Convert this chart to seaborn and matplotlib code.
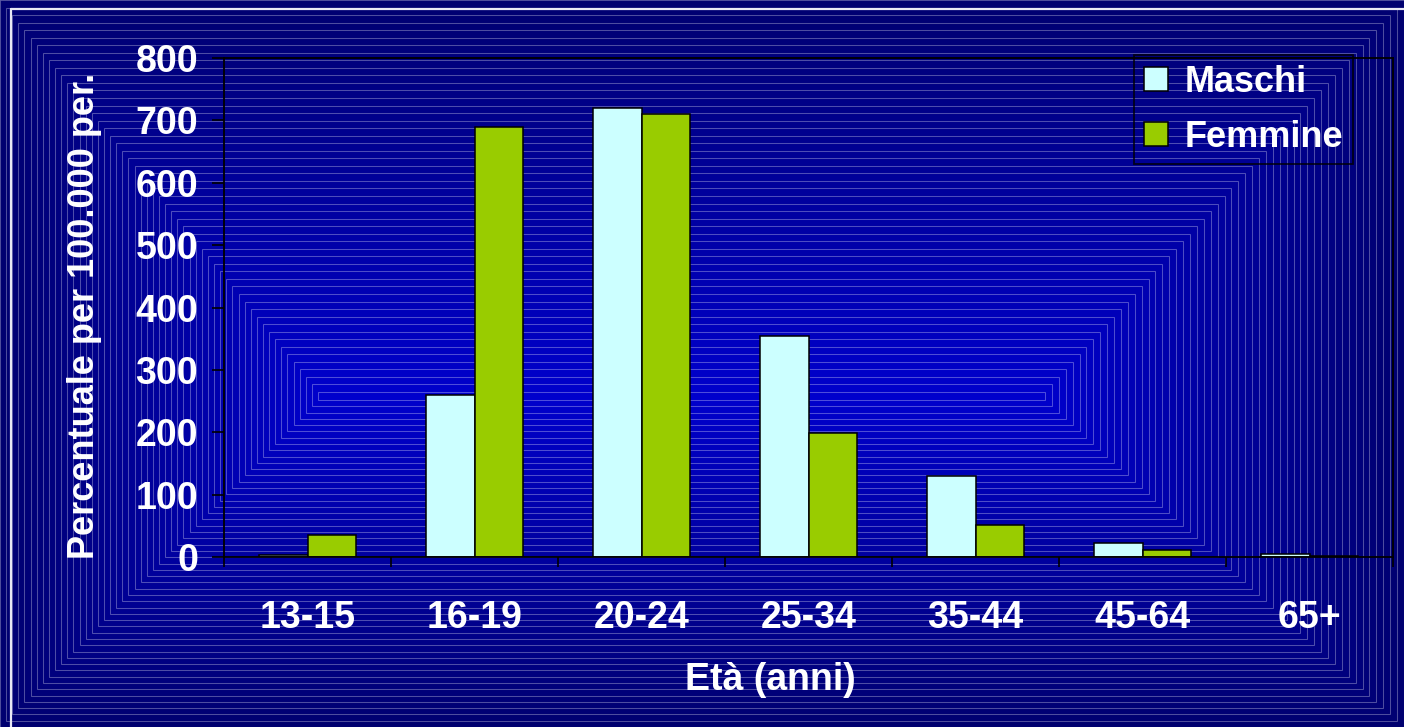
import numpy as np
import pandas as pd
import matplotlib
matplotlib.use("Agg")
import matplotlib.pyplot as plt
from matplotlib.patches import Rectangle
import seaborn as sns

# Rates per 100,000 by age group
categories = ["13-15", "16-19", "20-24", "25-34", "35-44", "45-64", "65+"]
maschi = [4, 260, 720, 354, 130, 22, 5]
femmine = [35, 689, 710, 199, 51, 11, 2]
series_names = ["Maschi", "Femmine"]
y_ticks = [0, 100, 200, 300, 400, 500, 600, 700, 800]

df = pd.DataFrame({
    "Età": categories * 2,
    "Valore": maschi + femmine,
    "Sesso": [series_names[0]] * len(categories) + [series_names[1]] * len(categories),
})

sns.set_theme(style="white")
plt.rcParams["font.family"] = ["Liberation Sans", "DejaVu Sans"]
plt.rcParams["font.weight"] = "bold"

W, H = 1404, 727
fig = plt.figure(figsize=(W / 100, H / 100), dpi=100)

# Slide background: concentric rectangles brightening towards the centre
bg = fig.add_axes([0, 0, 1, 1], zorder=0)
bg.set_xlim(0, W)
bg.set_ylim(H, 0)
bg.axis("off")
outer = np.array([0.0, 0.0, 0.44])
inner = np.array([0.0, 0.0, 0.80])
n_rings = 52
cx0, cx1, cy0, cy1 = 318, 1045, 392, 400
for i in range(n_rings + 1):
    t = i / n_rings
    x0 = t * cx0
    x1 = W - t * (W - cx1)
    y0 = t * cy0
    y1 = H - t * (H - cy1)
    col = outer + (inner - outer) * t
    edge = col + (np.array([1, 1, 1]) - col) * 0.3
    bg.add_patch(Rectangle((x0, y0), x1 - x0, y1 - y0, facecolor=col,
                           edgecolor=edge, linewidth=0.75))
# white frame lines
bg.plot([11, W], [9, 9], color="#e8e8f4", linewidth=1.6)
bg.plot([11, 11], [9, H], color="#e8e8f4", linewidth=1.6)

# Chart area
ax = fig.add_axes([224 / W, 1 - 557 / H, (1393 - 224) / W, (557 - 58) / H], zorder=1)
ax.set_facecolor("none")
sns.barplot(data=df, x="Età", y="Valore", hue="Sesso", order=categories,
            hue_order=series_names, palette=["#CCFFFF", "#99CC00"],
            width=0.575, edgecolor="black", linewidth=1.1, saturation=1,
            ax=ax)

ax.set_xlim(-0.5, len(categories) - 0.5)
ax.set_ylim(0, 800)
ax.set_yticks(y_ticks)
ax.set_xticks(np.arange(len(categories) + 1) - 0.5, minor=True)
for s in ax.spines.values():
    s.set_visible(True)
    s.set_color("black")
    s.set_linewidth(1.3)

fs = 27
ax.tick_params(axis="y", which="major", direction="out", length=8.6, width=1.2,
               color="black", labelcolor="white", labelsize=fs, pad=10, left=True)
ax.tick_params(axis="x", which="major", length=0, labelcolor="white",
               labelsize=fs, pad=31)
ax.tick_params(axis="x", which="minor", direction="out", length=7.5, width=1.2,
               color="black", bottom=True)
for lbl in ax.get_xticklabels() + ax.get_yticklabels():
    lbl.set_fontweight("bold")

ax.set_xlabel("Età (anni)", color="white", fontsize=fs, fontweight="bold", va="center")
ax.xaxis.set_label_coords((770 - 224) / (1393 - 224), (557 - 680) / (557 - 58))
ax.set_ylabel("Percentuale per 100.000 per.", color="white", fontsize=26,
              fontweight="bold", va="center")
ax.yaxis.set_label_coords((85 - 224) / (1393 - 224), (557 - 316) / (557 - 58))

leg = ax.legend(loc="upper left", bbox_to_anchor=(1134 / W, 1 - 55 / H),
                bbox_transform=fig.transFigure, frameon=True, fancybox=False,
                prop={"size": 26, "weight": "bold"}, handlelength=0.67,
                handleheight=0.62, handletextpad=0.45, labelspacing=0.55,
                borderpad=0.27, borderaxespad=0, title=None)
leg.get_frame().set_facecolor("none")
leg.get_frame().set_edgecolor("black")
leg.get_frame().set_linewidth(1.3)
for t in leg.get_texts():
    t.set_color("white")

fig.savefig("out.png", dpi=100)
